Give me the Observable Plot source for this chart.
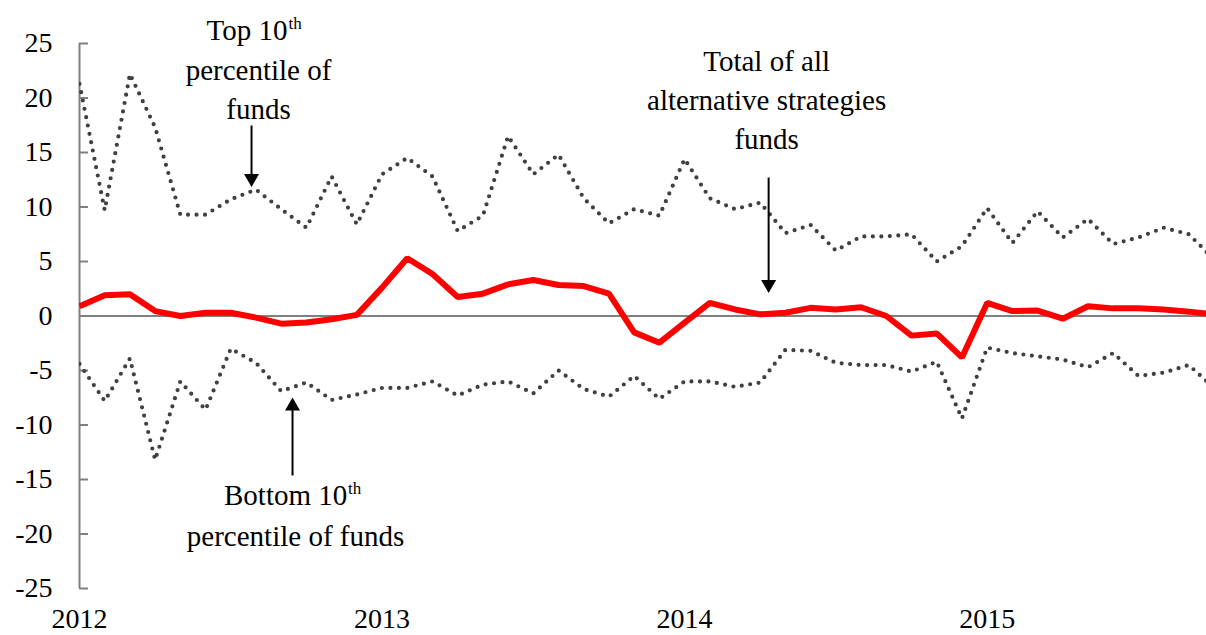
<!DOCTYPE html>
<html>
<head>
<meta charset="utf-8">
<script src="https://cdn.jsdelivr.net/npm/d3@7"></script>
<script src="https://cdn.jsdelivr.net/npm/@observablehq/plot@0.6"></script>
<style>
  html, body { margin: 0; padding: 0; background: #fff; }
  #chart svg { display: block; }
</style>
</head>
<body>
<div id="chart"></div>
<script>
// Monthly observations, Jan 2012 – Oct 2015
const months = [
  "2012-01","2012-02","2012-03","2012-04","2012-05","2012-06","2012-07","2012-08","2012-09","2012-10","2012-11","2012-12",
  "2013-01","2013-02","2013-03","2013-04","2013-05","2013-06","2013-07","2013-08","2013-09","2013-10","2013-11","2013-12",
  "2014-01","2014-02","2014-03","2014-04","2014-05","2014-06","2014-07","2014-08","2014-09","2014-10","2014-11","2014-12",
  "2015-01","2015-02","2015-03","2015-04","2015-05","2015-06","2015-07","2015-08","2015-09","2015-10"
];
// Total of all alternative strategies funds
const total = [
  0.9, 1.9, 2.0, 0.45, 0.0, 0.3, 0.3, -0.15, -0.7, -0.6, -0.3, 0.1,
  2.6, 5.3, 3.85, 1.75, 2.05, 2.9, 3.3, 2.85, 2.75, 2.05, -1.5, -2.45,
  -0.6, 1.2, 0.6, 0.15, 0.3, 0.75, 0.6, 0.8, 0.0, -1.8, -1.6, -3.8,
  1.2, 0.45, 0.5, -0.25, 0.9, 0.7, 0.7, 0.6, 0.4, 0.15
];
// Top 10th percentile of funds
const top10 = [
  21.3, 9.7, 22.2, 17.3, 9.3, 9.3, 10.7, 11.6, 9.8, 8.1, 12.8, 8.4,
  13.0, 14.5, 12.8, 7.8, 9.2, 16.5, 13.0, 14.8, 10.8, 8.5, 9.8, 9.2,
  14.4, 10.8, 9.8, 10.4, 7.6, 8.35, 6.0, 7.3, 7.3, 7.5, 5.0, 6.4,
  9.9, 6.7, 9.6, 7.2, 8.9, 6.6, 7.2, 8.1, 7.5, 5.2
];
// Bottom 10th percentile of funds
const bottom10 = [
  -4.4, -7.8, -3.9, -13.2, -6.0, -8.6, -3.0, -4.3, -6.9, -6.1, -7.7, -7.2,
  -6.6, -6.6, -6.0, -7.3, -6.3, -6.0, -7.1, -5.0, -6.7, -7.4, -5.5, -7.6,
  -6.0, -6.0, -6.5, -6.1, -3.1, -3.2, -4.3, -4.5, -4.5, -5.1, -4.2, -9.4,
  -2.9, -3.4, -3.7, -4.0, -4.7, -3.4, -5.5, -5.2, -4.5, -6.6
];
const yTicks = [-25, -20, -15, -10, -5, 0, 5, 10, 15, 20, 25];
const xTicks = [2012, 2013, 2014, 2015];

const rows = months.map((m, i) => ({
  x: +m.slice(0, 4) + (+m.slice(5) - 1) / 12,
  total: total[i],
  top10: top10[i],
  bottom10: bottom10[i]
}));

const FONT = "Liberation Serif, Times New Roman, serif";
const annSize = 29;
const lh = 1.345;

const chart = Plot.plot({
  width: 1206,
  height: 635,
  marginLeft: 79,
  marginRight: 0,
  marginTop: 43,
  marginBottom: 47,
  style: { fontFamily: FONT, color: "black", background: "white" },
  x: { domain: [2012, 2012 + 44.7 / 12], axis: null, label: null },
  y: { domain: [-25, 25], axis: null, label: null },
  marks: [
    Plot.ruleY([0], { stroke: "#808080", strokeWidth: 2 }),
    Plot.ruleX([2012], { stroke: "#808080", strokeWidth: 2 }),
    Plot.axisY({ ticks: yTicks, tickSize: -9, tickPadding: 36, stroke: "#808080", strokeWidth: 2, fill: "black",
                 tickFormat: d => String(d), fontSize: 28, label: null }),
    Plot.axisX({ ticks: xTicks, tickSize: 0, tickPadding: 20, fill: "black",
                 tickFormat: d => String(d), fontSize: 28, label: null }),
    Plot.line(rows, { x: "x", y: "top10", stroke: "#404040", strokeWidth: 4.2,
                      strokeDasharray: "0 8.5", strokeLinecap: "round", clip: true }),
    Plot.line(rows, { x: "x", y: "bottom10", stroke: "#404040", strokeWidth: 4.2,
                      strokeDasharray: "0 8.5", strokeLinecap: "round", clip: true }),
    Plot.line(rows, { x: "x", y: "total", stroke: "#ff0000", strokeWidth: 6,
                      strokeLinejoin: "miter", strokeLinecap: "butt", clip: true }),
    // arrows
    Plot.ruleX([2012.5686], { y1: 17.43, y2: 12.94, stroke: "black", strokeWidth: 2 }),
    Plot.dot([{ x: 2012.5686, y: 12.63 }], { x: "x", y: "y", symbol: "triangle", r: 5.57, fill: "black", stroke: null, rotate: 180 }),
    Plot.ruleX([2014.2777], { y1: 12.66, y2: 3.21, stroke: "black", strokeWidth: 2 }),
    Plot.dot([{ x: 2014.2777, y: 2.91 }], { x: "x", y: "y", symbol: "triangle", r: 5.57, fill: "black", stroke: null, rotate: 180 }),
    Plot.ruleX([2012.7041], { y1: -14.68, y2: -8.53, stroke: "black", strokeWidth: 2 }),
    Plot.dot([{ x: 2012.7041, y: -8.28 }], { x: "x", y: "y", symbol: "triangle", r: 5.57, fill: "black", stroke: null }),
    // annotation texts
    Plot.text(["Top 10"], { x: 2012.6876, y: 25.29, textAnchor: "end", lineAnchor: "bottom", fontSize: annSize, fill: "black" }),
    Plot.text(["th"], { x: 2012.6909, y: 26.33, textAnchor: "start", lineAnchor: "bottom", fontSize: 17, fill: "black" }),
    Plot.text(["percentile of\nfunds"], { x: 2012.5917, y: 18.05, lineAnchor: "bottom", lineHeight: lh, fontSize: annSize, fill: "black" }),
    Plot.text(["Total of all\nalternative strategies\nfunds"], { x: 2014.2711, y: 15.32, lineAnchor: "bottom", lineHeight: lh, fontSize: annSize, fill: "black" }),
    Plot.text(["Bottom 10"], { x: 2012.885, y: -17.34, textAnchor: "end", lineAnchor: "bottom", fontSize: annSize, fill: "black" }),
    Plot.text(["th"], { x: 2012.8876, y: -16.33, textAnchor: "start", lineAnchor: "bottom", fontSize: 17, fill: "black" }),
    Plot.text(["percentile of funds"], { x: 2012.714, y: -21.10, lineAnchor: "bottom", fontSize: annSize, fill: "black" })
  ]
});
document.getElementById("chart").appendChild(chart);
</script>
</body>
</html>
